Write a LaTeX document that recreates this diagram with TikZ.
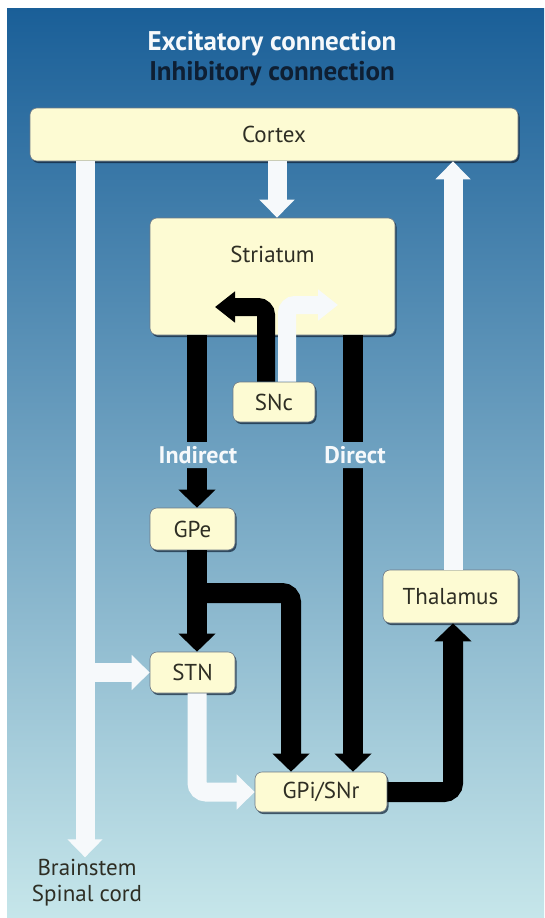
\documentclass[tikz,border=0pt]{standalone}
\usepackage{fontspec}
\setmainfont{PT Sans}
\usetikzlibrary{arrows.meta}
\usetikzlibrary{shadows}

\definecolor{bgtop}{HTML}{1A5F98}
\definecolor{bgmid}{HTML}{5E9BC6}
\definecolor{bgbot}{HTML}{C6E6EA}
\definecolor{boxfill}{HTML}{FDFBD3}
\definecolor{boxtext}{HTML}{2E2E24}
\definecolor{navy}{HTML}{0E1F33}
\definecolor{offwhite}{HTML}{F6F9FB}

\begin{document}
\begin{tikzpicture}[x=1pt, y=-1pt]

\tikzset{backdrop/.style = {top color=bgtop, middle color=bgmid, bottom color=bgbot}}
\tikzset{region/.style = {shape=rectangle, rounded corners=7pt, fill=boxfill, draw=navy!60, line width=0.6pt, drop shadow={shadow xshift=1.5pt, shadow yshift=-2pt, fill=navy, opacity=0.7}, text=boxtext, font=\fontsize{23}{26}\selectfont, inner sep=0pt}}
\tikzset{exc/.style = {draw=offwhite, line width=19pt, -{Triangle[width=34pt,length=18pt]}}}
\tikzset{inh/.style = {draw=black, line width=20pt, -{Triangle[width=36pt,length=18pt]}}}
\tikzset{dopa/.style = {line width=18pt, rounded corners=8pt, -{Triangle[width=30pt,length=20pt]}}}
\tikzset{pathlabel/.style = {font=\bfseries\fontsize{24}{26}\selectfont, text=offwhite, inner sep=1pt}}

% background
\fill[white] (0,0) rectangle (544,918);
\shade[backdrop] (7,8) rectangle (544,918);

% legend
\node[font=\bfseries\fontsize{27}{30}\selectfont, text=offwhite] (exctitle) at (272,44) {Excitatory connection};
\node[font=\bfseries\fontsize{27}{30}\selectfont, text=navy] (inhtitle) at (272,74) {Inhibitory connection};

% regions
\node[region, minimum width=488pt, minimum height=53pt] (cortex) at (274,134.5) {Cortex};
\node[region, minimum width=245pt, text height=44pt, text depth=73pt] (striatum) at (272.5,276.5) {Striatum};
\node[region, minimum width=82pt, minimum height=40pt] (snc) at (274,402) {SNc};
\node[region, minimum width=85pt, minimum height=42pt] (gpe) at (192.5,529) {GPe};
\node[region, minimum width=85pt, minimum height=41pt] (stn) at (192.5,672.5) {STN};
\node[region, minimum width=135pt, minimum height=53pt] (thal) at (450.5,596.5) {Thalamus};
\node[region, minimum width=132pt, minimum height=40pt] (gpi) at (321,792) {GPi/SNr};
\node[font=\fontsize{23}{26}\selectfont, text=boxtext, align=center, inner sep=2pt] (brain) at (87,883) {Brainstem\\Spinal cord};

\coordinate (dminus) at (215,307);
\coordinate (dplus) at (338,305);
\coordinate (gpebr) at (197,593);

% excitatory
\draw[exc] (cortex.south -| 277,0) -- (striatum.north -| 277,0);
\draw[exc] (cortex.south -| 85,0) -- (brain.north -| 85,0);
\draw[exc] (stn -| 85,0) -- (stn.west);
\draw[exc] (thal.north -| 453,0) -- (cortex.south -| 453,0);
\draw[exc, rounded corners=9pt] (stn.south -| 197,0) |- (gpi.west);
% inhibitory
\draw[inh] (striatum.south -| 197,0) -- (gpe.north -| 197,0);
\draw[inh] (gpe.south -| 197,0) -- (stn.north -| 197,0);
\draw[inh, rounded corners=9pt] (gpebr) -| (gpi.north -| 291,0);
\draw[inh] (striatum.south -| 353,0) -- (gpi.north -| 353,0);
\draw[inh, rounded corners=9pt] (gpi.east) -| (thal.south -| 453,0);
% dopamine
\draw[inh, dopa] (snc.north -| 266,0) |- (dminus);
\draw[exc, dopa] (snc.north -| 287,0) |- (dplus);

% pathway names, cut into the black shafts
\begin{scope}
\clip (156,442) rectangle (240,468) (318,442) rectangle (392,468);
\shade[backdrop] (7,8) rectangle (544,918);
\end{scope}
\node[pathlabel] (indlbl) at (198,455) {Indirect};
\node[pathlabel] (dirlbl) at (355,455) {Direct};
\end{tikzpicture}
\end{document}
